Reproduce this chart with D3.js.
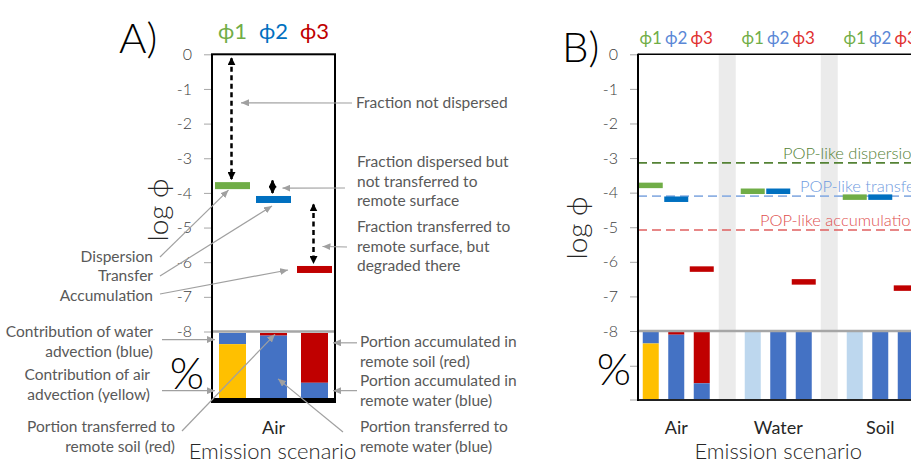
<!DOCTYPE html>
<html>
<head>
<meta charset="utf-8">
<script src="https://cdn.jsdelivr.net/npm/d3@7"></script>
<style>
body { margin: 0; background: #fff; }
svg text { font-family: Lato, "Open Sans", "DejaVu Sans", sans-serif; }
</style>
</head>
<body>
<svg id="canvas"></svg>
<script>
const width = 911;
const height = 463;

// ---- data ----
const scenarios = ["Air", "Water", "Soil"];
const phiLabels = ["ϕ1", "ϕ2", "ϕ3"];
const phi1 = [-3.79, -3.96, -4.13];   // dispersion
const phi2 = [-4.19, -3.96, -4.13];   // transfer
const phi3 = [-6.21, -6.58, -6.76];   // accumulation
const popLike = [-3.14, -4.10, -5.08];
const popLabels = ["POP-like dispersion", "POP-like transfer", "POP-like accumulation"];
const logTicks = [0, -1, -2, -3, -4, -5, -6, -7, -8];

// percentage bars (top to bottom), one value per scenario
const pctWaterAdv = [17, 0, 0];
const pctAirAdv = [83, 0, 0];
const pctOther = [0, 100, 100];
const pctTransSoil = [4, 0, 0];
const pctTransWater = [96, 100, 100];
const pctAccSoil = [76, 0, 0];
const pctAccWater = [24, 100, 100];

const markerColors = ["#70AD47", "#0070C0", "#C00000"];
const cBlue = "#4472C4", cYellow = "#FFC000", cRed = "#C00000", cLight = "#BDD7EE";
const noteColor = "#595959";
const arrowGray = "#A0A0A0";

function phiValues(s) { return [phi1[s], phi2[s], phi3[s]]; }

function pctBars(s) {
    const bars = [
        [{ v: pctWaterAdv[s], c: cBlue }, { v: pctAirAdv[s], c: cYellow }, { v: pctOther[s], c: cLight }],
        [{ v: pctTransSoil[s], c: cRed }, { v: pctTransWater[s], c: cBlue }],
        [{ v: pctAccSoil[s], c: cRed }, { v: pctAccWater[s], c: cBlue }]
    ];
    // cumulative from the top
    return bars.map(segs => {
        let acc = 0;
        return segs.filter(d => d.v > 0).map(d => {
            const o = { y0: acc, y1: acc + d.v, c: d.c };
            acc += d.v;
            return o;
        });
    });
}

const svg = d3.select("#canvas")
    .attr("width", width)
    .attr("height", height);

const defs = svg.append("defs");
defs.append("marker")
    .attr("id", "grayHead")
    .attr("viewBox", "0 0 8 7")
    .attr("refX", 8).attr("refY", 3.5)
    .attr("markerWidth", 8).attr("markerHeight", 7)
    .attr("markerUnits", "userSpaceOnUse")
    .attr("orient", "auto")
    .append("path").attr("d", "M0,0L8,3.5L0,7Z").attr("fill", arrowGray);
defs.append("marker")
    .attr("id", "blackHead")
    .attr("viewBox", "0 0 8 8")
    .attr("refX", 7).attr("refY", 4)
    .attr("markerWidth", 8).attr("markerHeight", 8)
    .attr("markerUnits", "userSpaceOnUse")
    .attr("orient", "auto-start-reverse")
    .append("path").attr("d", "M0,0L8,4L0,8Z").attr("fill", "#000");

function multiText(g, lines, x, y, anchor, size, color, lh) {
    const t = g.append("text")
        .attr("x", x).attr("y", y)
        .attr("text-anchor", anchor)
        .attr("font-size", size)
        .attr("fill", color);
    lines.forEach((l, i) => {
        t.append("tspan").attr("x", x).attr("y", y + i * lh).attr("dy", "0.35em").text(l);
    });
    return t;
}

function grayArrow(g, from, to) {
    g.append("line")
        .attr("x1", from[0]).attr("y1", from[1])
        .attr("x2", to[0]).attr("y2", to[1])
        .attr("stroke", arrowGray).attr("stroke-width", 1.2)
        .attr("marker-end", "url(#grayHead)");
}

function logAxis(g, y, x0, pad) {
    const ax = g.append("g")
        .attr("transform", `translate(${x0},0)`)
        .call(d3.axisLeft(y).tickValues(logTicks).tickSize(8).tickPadding(pad).tickFormat(d => String(d)));
    ax.select(".domain").remove();
    ax.selectAll(".tick line").attr("stroke", "#A6A6A6");
    ax.selectAll(".tick text")
        .attr("font-size", 16)
        .attr("font-weight", 300)
        .attr("fill", "#404040")
        .style("font-family", "Lato, 'Open Sans', sans-serif");
}

// =================== Panel A ===================
const gA = svg.append("g");
const xA = d3.scaleBand().domain([0, 1, 2]).range([212, 335]);
const yA = d3.scaleLinear().domain([0, -8]).range([54.3, 331.5]);
const pA = d3.scaleLinear().domain([0, 100]).range([333, 398.5]);
const stepA = xA.step();
const cxA = i => xA(i) + stepA / 2;
const mwA = 35, bwA = 27;
const valsA = phiValues(0);

logAxis(gA, yA, 212, 12);

// percent bars
pctBars(0).forEach((segs, i) => {
    gA.selectAll(null).data(segs).enter().append("rect")
        .attr("x", cxA(i) - bwA / 2)
        .attr("width", bwA)
        .attr("y", d => pA(d.y0))
        .attr("height", d => pA(d.y1) - pA(d.y0))
        .attr("fill", d => d.c);
});

// frame
gA.append("line").attr("x1", 212).attr("x2", 335).attr("y1", yA(-8)).attr("y2", yA(-8))
    .attr("stroke", "#A6A6A6").attr("stroke-width", 2.5);
gA.append("rect").attr("x", 212).attr("y", yA(0)).attr("width", 123).attr("height", 346)
    .attr("fill", "none").attr("stroke", "#000").attr("stroke-width", 2);
gA.append("rect").attr("x", 211).attr("y", 398).attr("width", 125).attr("height", 5).attr("fill", "#000");

// markers
gA.selectAll(null).data(valsA).enter().append("rect")
    .attr("x", (d, i) => cxA(i) - mwA / 2)
    .attr("width", mwA)
    .attr("y", d => yA(d) - 3.5)
    .attr("height", 7)
    .attr("fill", (d, i) => markerColors[i]);

// dashed double arrows between levels
const levelsA = [0].concat(valsA);
const topPad = [4, -5, 5];
valsA.forEach((v, i) => {
    gA.append("line")
        .attr("x1", cxA(i) - 1).attr("x2", cxA(i) - 1)
        .attr("y1", yA(levelsA[i]) + topPad[i])
        .attr("y2", yA(v) - 6.5)
        .attr("stroke", "#000").attr("stroke-width", 2.5)
        .attr("stroke-dasharray", "5,3.5")
        .attr("marker-start", "url(#blackHead)")
        .attr("marker-end", "url(#blackHead)");
});

// top phi labels
phiLabels.forEach((l, i) => {
    gA.append("text").attr("x", cxA(i)).attr("y", 31).attr("dy", "0.35em")
        .attr("text-anchor", "middle").attr("font-size", 22)
        .attr("fill", markerColors[i]).text(l);
});

gA.append("text").attr("x", 119).attr("y", 53).attr("font-size", 42).attr("font-weight", 300)
    .attr("fill", "#000").text("A)");
gA.append("text").attr("transform", `translate(158,210) rotate(-90)`).attr("dy", "0.35em")
    .attr("text-anchor", "middle").attr("font-size", 28).attr("font-weight", 300)
    .attr("fill", "#262626").text("log ϕ");
gA.append("text").attr("x", 187).attr("y", 374).attr("dy", "0.35em")
    .attr("text-anchor", "middle").attr("font-size", 44).attr("font-weight", 300)
    .attr("fill", "#000").text("%");
gA.append("text").attr("x", cxA(1)).attr("y", 428).attr("dy", "0.35em")
    .attr("text-anchor", "middle").attr("font-size", 18).attr("fill", "#262626").text(scenarios[0]);
gA.append("text").attr("x", cxA(1) - 1).attr("y", 451).attr("dy", "0.35em")
    .attr("text-anchor", "middle").attr("font-size", 22).attr("font-weight", 300)
    .attr("fill", "#262626").text("Emission scenario");

// callouts
const notesA = [
    { lines: ["Fraction not dispersed"], x: 356, y: 103, a: "start",
      from: [352, 103], to: [cxA(0) + 8.5, yA(-1.4)] },
    { lines: ["Fraction dispersed but", "not transferred to", "remote surface"], x: 357, y: 162, a: "start",
      from: [345, 188], to: [cxA(1) + 9, yA(valsA[0]) + 2.5] },
    { lines: ["Fraction transferred to", "remote surface, but", "degraded there"], x: 357, y: 227, a: "start",
      from: [347, 247], to: [cxA(2) + 8, yA((valsA[1] + valsA[2]) / 2) + 12] },
    { lines: ["Dispersion"], x: 153, y: 257, a: "end",
      from: [160, 257], to: [cxA(0) - 4, yA(valsA[0]) + 4.5] },
    { lines: ["Transfer"], x: 153, y: 276, a: "end",
      from: [160, 276], to: [cxA(1) - 1.5, yA(valsA[1]) + 6.5] },
    { lines: ["Accumulation"], x: 153, y: 296, a: "end",
      from: [160, 294], to: [cxA(2) - mwA / 2 - 9, yA(valsA[2]) + 0.5] },
    { lines: ["Contribution of water", "advection (blue)"], x: 153, y: 332, a: "end",
      from: [162, pA(pctWaterAdv[0] / 2) + 1], to: [215, pA(pctWaterAdv[0] / 2) + 1] },
    { lines: ["Contribution of air", "advection (yellow)"], x: 150, y: 375, a: "end",
      from: [162, pA(88)], to: [215, pA(88)] },
    { lines: ["Portion transferred to", "remote soil (red)"], x: 175, y: 427, a: "end",
      from: [182, 431], to: [cxA(1) + 1.5, pA(2)] },
    { lines: ["Portion accumulated in", "remote soil (red)"], x: 360, y: 342, a: "start",
      from: [357, pA(15)], to: [333, pA(15)] },
    { lines: ["Portion accumulated in", "remote water (blue)"], x: 360, y: 381, a: "start",
      from: [357, pA(88)], to: [333, pA(88)] },
    { lines: ["Portion transferred to", "remote water (blue)"], x: 360, y: 427, a: "start",
      from: [343, 432], to: [cxA(1) + 4.5, pA(70)] }
];
notesA.forEach(n => {
    multiText(gA, n.lines, n.x, n.y, n.a, 15.5, noteColor, 19.5);
    grayArrow(gA, n.from, n.to);
});

// =================== Panel B ===================
const gB = svg.append("g");
const xB = d3.scaleBand().domain(d3.range(12)).range([638, 944]);
const yB = d3.scaleLinear().domain([0, -8]).range([54.3, 331]);
const pB = d3.scaleLinear().domain([0, 100]).range([332, 399.5]);
const stepB = xB.step();
const cxB = k => xB(k) + stepB / 2;
const slot = (s, j) => s * 4 + j;
const mwB = 24, bwB = 16;

// gray separator bands
[3, 7].forEach(k => {
    gB.append("rect").attr("x", cxB(k) - 8.5).attr("width", 17)
        .attr("y", yB(0)).attr("height", 400 - yB(0)).attr("fill", "#EBEBEB");
});

logAxis(gB, yB, 638, 12);
const pAx = gB.append("g").attr("transform", "translate(638,0)")
    .call(d3.axisLeft(pB).tickValues([50, 100]).tickSize(8).tickFormat(""));
pAx.select(".domain").remove();
pAx.selectAll(".tick line").attr("stroke", "#A6A6A6");

// POP-like reference lines
const popColors = ["#548235", "#8FB1E3", "#E06060"];
const popText = ["#548235", "#6F9BE0", "#E05050"];
const popLabelX = [783, 800, 760];
popLike.forEach((v, i) => {
    gB.append("line").attr("x1", 638).attr("x2", width)
        .attr("y1", yB(v)).attr("y2", yB(v))
        .attr("stroke", popColors[i]).attr("stroke-width", 1.6)
        .attr("stroke-dasharray", "9,5");
    gB.append("text").attr("x", popLabelX[i]).attr("y", yB(v) - 4)
        .attr("font-size", 16.5).attr("font-weight", 300).attr("fill", popText[i]).text(popLabels[i]);
});

scenarios.forEach((name, s) => {
    const vals = phiValues(s);
    gB.selectAll(null).data(vals).enter().append("rect")
        .attr("x", (d, j) => cxB(slot(s, j)) - mwB / 2)
        .attr("width", mwB)
        .attr("y", d => yB(d) - 2.75)
        .attr("height", 5.5)
        .attr("fill", (d, j) => markerColors[j]);

    pctBars(s).forEach((segs, j) => {
        gB.selectAll(null).data(segs).enter().append("rect")
            .attr("x", cxB(slot(s, j)) - bwB / 2)
            .attr("width", bwB)
            .attr("y", d => pB(d.y0))
            .attr("height", d => pB(d.y1) - pB(d.y0))
            .attr("fill", d => d.c);
    });

    const phiCol = ["#70AD47", "#5B87D6", "#E03030"];
    phiLabels.forEach((l, j) => {
        gB.append("text").attr("x", cxB(slot(s, j))).attr("y", 38).attr("dy", "0.35em")
            .attr("text-anchor", "middle").attr("font-size", 17)
            .attr("fill", phiCol[j]).text(l);
    });

    gB.append("text").attr("x", cxB(slot(s, 1))).attr("y", 428).attr("dy", "0.35em")
        .attr("text-anchor", "middle").attr("font-size", 18).attr("fill", "#262626").text(name);
});

// frame lines
gB.append("line").attr("x1", 638).attr("x2", width).attr("y1", yB(-8)).attr("y2", yB(-8))
    .attr("stroke", "#A6A6A6").attr("stroke-width", 2.5);
gB.append("line").attr("x1", 638).attr("x2", width).attr("y1", 400).attr("y2", 400)
    .attr("stroke", "#222").attr("stroke-width", 2);
gB.append("line").attr("x1", 638).attr("x2", width).attr("y1", yB(0)).attr("y2", yB(0))
    .attr("stroke", "#000").attr("stroke-width", 1.5);
gB.append("line").attr("x1", 638).attr("x2", 638).attr("y1", yB(0) - 0.5).attr("y2", 401)
    .attr("stroke", "#000").attr("stroke-width", 2);

gB.append("text").attr("x", 562).attr("y", 62).attr("font-size", 42).attr("font-weight", 300)
    .attr("fill", "#000").text("B)");
gB.append("text").attr("transform", `translate(577,228) rotate(-90)`).attr("dy", "0.35em")
    .attr("text-anchor", "middle").attr("font-size", 28).attr("font-weight", 300)
    .attr("fill", "#262626").text("log ϕ");
gB.append("text").attr("x", 614).attr("y", 370).attr("dy", "0.35em")
    .attr("text-anchor", "middle").attr("font-size", 44).attr("font-weight", 300)
    .attr("fill", "#000").text("%");
gB.append("text").attr("x", cxB(5)).attr("y", 451).attr("dy", "0.35em")
    .attr("text-anchor", "middle").attr("font-size", 22).attr("font-weight", 300)
    .attr("fill", "#262626").text("Emission scenario");
</script>
</body>
</html>
